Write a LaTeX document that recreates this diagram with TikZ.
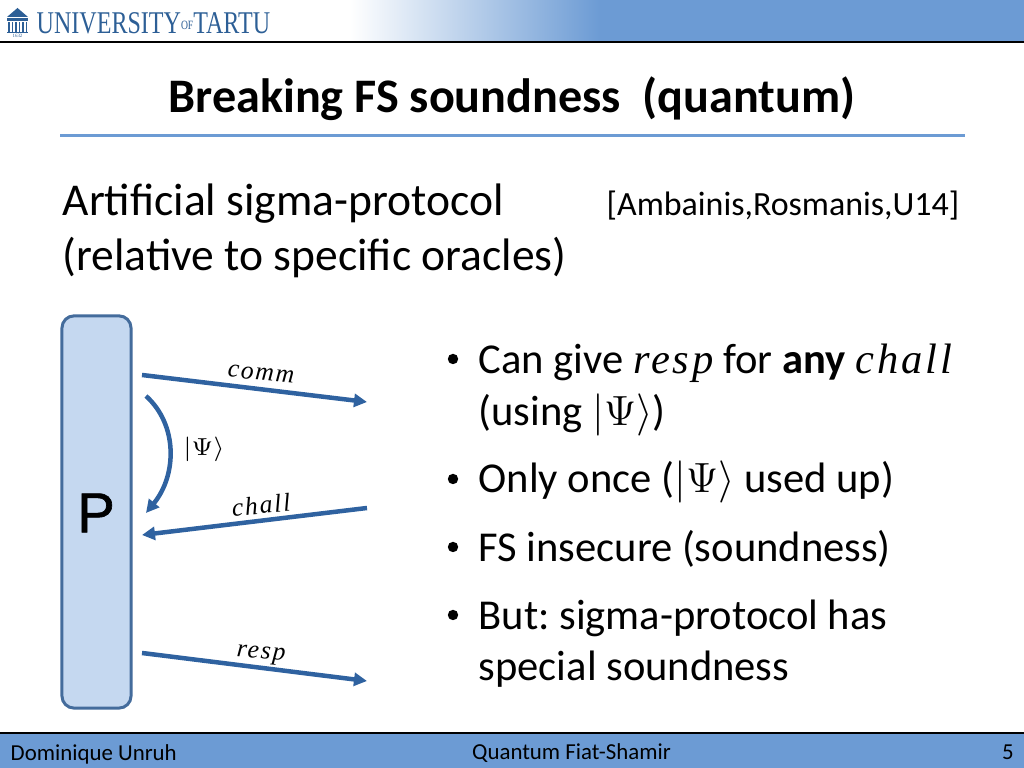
\documentclass[tikz,border=0pt]{standalone}
\usepackage{amsmath}
\usepackage{amssymb}
\usepackage{graphicx}
\usepackage{fontspec}
\setmainfont{Carlito}
\newfontfamily\logofont{Liberation Serif}
\newfontfamily\boxfont[FakeBold=1.2]{Liberation Sans}
\newfontfamily\wordfont[LetterSpace=7]{Liberation Serif}
\newcommand{\mword}[1]{{\wordfont\itshape #1}}
\usetikzlibrary{arrows.meta}
\definecolor{headblue}{RGB}{108,155,212}
\definecolor{logoblue}{RGB}{45,95,150}
\definecolor{arrowblue}{RGB}{47,98,160}
\definecolor{boxfill}{RGB}{197,216,240}
\definecolor{boxline}{RGB}{68,108,156}
\tikzset{x=.01cm, y=-.01cm,
 msg/.style={line width=.045cm, arrowblue, -{Triangle[length=.13cm, width=.13cm]}},
 msglabel/.style={font=\fontsize{7.3}{9}\selectfont},
 bodyline/.style={anchor=base west, inner sep=0, font=\fontsize{12.1}{14}\selectfont},
 bigline/.style={anchor=base west, inner sep=0, font=\fontsize{12.95}{15}\selectfont},
 footline/.style={inner sep=0, font=\fontsize{6.5}{8}\selectfont},
 }

\begin{document}
\frenchspacing
\begin{tikzpicture}
        \useasboundingbox (0, 0) rectangle (1024, 768);
        % header
        \shade[left color=white, right color=headblue] (350, 0) rectangle (600, 42);
        \fill[headblue] (600, 0) rectangle (1024, 42);
        \draw[line width=.012cm] (0, 42) -- (1024, 42);
        \fill[logoblue] (7, 17) -- (17.5, 8) -- (28, 17) -- cycle;
        \fill[logoblue] (7, 18) rectangle (28, 21);
        \foreach \x in {8, 11.5, 15, 18.5, 22, 25.5} {
            \fill[logoblue] (\x, 22) rectangle (\x+1.8, 32);
        }
        \fill[logoblue] (7, 32) rectangle (28, 33.5);
        \node[inner sep=0, logoblue, font=\logofont\fontsize{1.4}{2}\selectfont] (year) at (17.5, 36) {1632};
        \node[anchor=base west, inner sep=0, logoblue, font=\logofont\fontsize{9}{11}\selectfont] (logo) at (36, 34)
            {\scalebox{.76}[1]{UNIVERSITY\raisebox{.3ex}{\fontsize{3.6}{4}\selectfont OF}TARTU}};
        % title
        \node[anchor=base, inner sep=0, font=\fontsize{13.7}{16}\selectfont\bfseries] (title) at (512, 113) {Breaking FS soundness\ \ (quantum)};
        \draw[line width=.03cm, headblue] (60, 136) -- (965, 136);
        \node[bigline] (sub1) at (62, 216) {Art{}ificial sigma-protocol};
        \node[bigline] (sub2) at (62, 271) {(relative to specific oracles)};
        \node[anchor=base east, inner sep=0, font=\fontsize{9.65}{11}\selectfont] (cite) at (960, 216) {[Ambainis,Rosmanis,U14]};
        % prover and messages
        \node[draw=boxline, fill=boxfill, line width=.03cm, rounded corners=.12cm, minimum width=.69cm, minimum height=3.92cm, inner sep=0] (prover) at (96.5, 512) {};
        \node[inner sep=0, font=\boxfont\fontsize{16}{18}\selectfont] (plabel) at (96, 513) {P};
        \coordinate (comma) at (142, 375);
        \coordinate (commb) at (367, 402);
        \coordinate (challa) at (367, 508);
        \coordinate (challb) at (142, 535);
        \coordinate (respa) at (142, 653);
        \coordinate (respb) at (367, 681);
        \coordinate (psia) at (146, 396);
        \coordinate (psib) at (146, 513);
        \draw[msg] (comma) -- (commb);
        \draw[msg] (challa) -- (challb);
        \draw[msg] (respa) -- (respb);
        \draw[msg] (psia) .. controls (178, 425) and (177, 475) .. (psib);
        \node[msglabel, rotate=-5] (comm) at (261, 374) {\mword{comm}};
        \node[msglabel, rotate=5] (chall) at (261, 505) {\mword{chall}};
        \node[msglabel, rotate=-5] (resp) at (261, 655) {\mword{resp}};
        \node[msglabel] (psi) at (204, 449) {$|\Psi\rangle$};
        % bullets
        \foreach \y in {372, 492, 560, 628} {
            \fill (453, \y-13) circle (.052cm);
        }
        \node[bodyline] (b1) at (478, 374) {Can give \mword{resp} for \textbf{any} \mword{chall}};
        \node[bodyline] (b1b) at (478, 426) {(using $|\Psi\rangle$)};
        \node[bodyline] (b2) at (478, 493) {Only once ($|\Psi\rangle$ used up)};
        \node[bodyline] (b3) at (478, 562) {FS insecure (soundness)};
        \node[bodyline] (b4) at (478, 630) {But: sigma-protocol has};
        \node[bodyline] (b4b) at (478, 681) {special soundness};
        % footer
        \fill[headblue] (0, 733) rectangle (1024, 768);
        \draw[line width=.012cm] (0, 733) -- (1024, 733);
        \node[footline, anchor=base west] (author) at (10, 761) {Dominique Unruh};
        \node[footline, anchor=base] (talk) at (571.5, 760) {Quantum Fiat-Shamir};
        \node[footline, anchor=base] (page) at (1008, 760) {5};
    \end{tikzpicture}
\end{document}
